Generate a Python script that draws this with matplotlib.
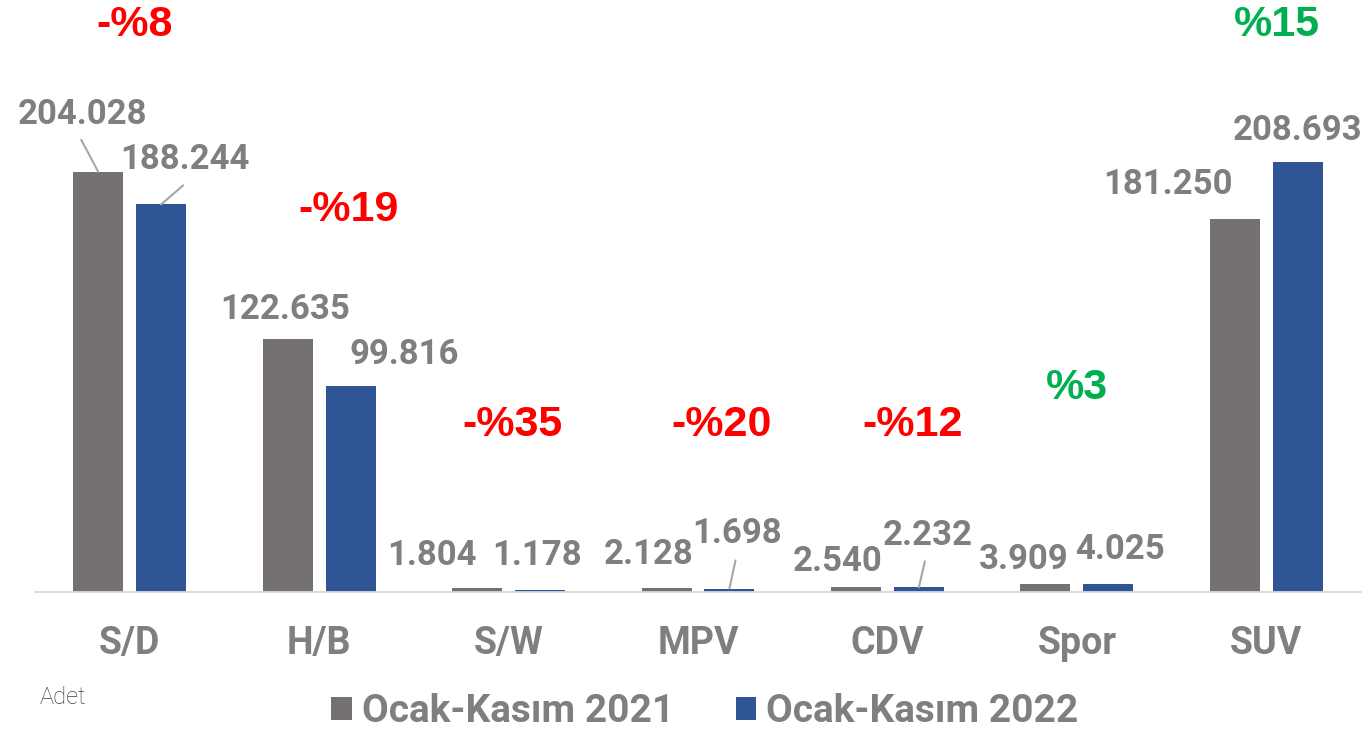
import matplotlib
matplotlib.use("Agg")
import matplotlib.pyplot as plt
from matplotlib.patches import Patch
import matplotlib.transforms as mtransforms

# ---- data ----
categories = ["S/D", "H/B", "S/W", "MPV", "CDV", "Spor", "SUV"]
series_names = ["Ocak-Kasım 2021", "Ocak-Kasım 2022"]
values_2021 = [204028, 122635, 1804, 2128, 2540, 3909, 181250]
values_2022 = [188244, 99816, 1178, 1698, 2232, 4025, 208693]
unit_label = "Adet"

# ---- layout / style ----
W, H, DPI = 1370, 731, 100
gray = "#767171"
blue = "#2F5597"
label_gray = "#7F7F7F"
red = "#FF0000"
green = "#00B050"
bar_w = 0.264
offset = 0.166
PX = 72.0 / DPI  # points per pixel

# label offsets (pixels) relative to bar top centre: (dx, dy_up)
off_2021 = [(-16, 57), (-3, 30), (-45, 33), (-18, 33), (-18, 25), (-22, 24), (-67, 34)]
off_2022 = [(24, 45), (54, 32), (-3, 34), (8, 55), (9, 52), (12, 34), (0, 32)]
# leader lines for these labels: (series, index, end offset px)
leaders = [(0, 0, (-17, 32)), (1, 0, (22, 19)), (1, 3, (6, 28)), (1, 4, (6, 26))]
# change-label positions: dx px from category centre, y px from top of figure
pct_pos = [(5, 25), (29, 210), (4, 425), (24, 425), (25, 425), (0, 388), (11, 25)]

fig = plt.figure(figsize=(W / DPI, H / DPI), dpi=DPI)
ax = fig.add_axes([35 / W, 1 - 592 / H, 1326 / W, 592 / H])
ax.set_xlim(-0.5, len(categories) - 0.5)
ax.set_ylim(0, 287500)

x = list(range(len(categories)))
b1 = ax.bar([i - offset for i in x], values_2021, width=bar_w, color=gray, label=series_names[0])
b2 = ax.bar([i + offset for i in x], values_2022, width=bar_w, color=blue, label=series_names[1])

for s in ["top", "right", "left"]:
    ax.spines[s].set_visible(False)
ax.spines["bottom"].set_color("#D9D9D9")
ax.spines["bottom"].set_linewidth(1.3)
ax.set_yticks([])
ax.set_xticks(x)
ax.set_xticklabels(categories, fontsize=27, fontweight="bold", color=label_gray, family="Roboto")
ax.tick_params(axis="x", length=0, pad=24)

def fmt(v):
    return f"{v:,}".replace(",", ".")

for si, (vals, offs) in enumerate([(values_2021, off_2021), (values_2022, off_2022)]):
    for i, v in enumerate(vals):
        xc = i - offset if si == 0 else i + offset
        dx, dy = offs[i]
        ax.annotate(fmt(v), xy=(xc, v), xytext=(dx * PX, dy * PX), textcoords="offset points",
                    ha="center", va="center", fontsize=25, fontweight="bold",
                    color=label_gray, family="Roboto")

for si, i, (ex, ey) in leaders:
    vals = values_2021 if si == 0 else values_2022
    xc = i - offset if si == 0 else i + offset
    ax.annotate("", xy=(xc, vals[i]), xytext=(ex * PX, ey * PX), textcoords="offset points",
                arrowprops=dict(arrowstyle="-", color="#A6A6A6", lw=1.5, shrinkA=0, shrinkB=0))

# percent change labels
trans = mtransforms.blended_transform_factory(ax.transData, fig.transFigure)
for i, (a, b) in enumerate(zip(values_2021, values_2022)):
    pct = round((b / a - 1) * 100)
    txt = f"-%{abs(pct)}" if pct < 0 else f"%{pct}"
    col = red if pct < 0 else green
    dx, ypx = pct_pos[i]
    ax.annotate(txt, xy=(i, 1 - ypx / H), xycoords=trans, xytext=(dx * PX, 0),
                textcoords="offset points", ha="center", va="center",
                fontsize=31, fontweight="bold", color=col, family="Liberation Sans",
                annotation_clip=False)

# legend
handles = [Patch(facecolor=gray, edgecolor="none"), Patch(facecolor=blue, edgecolor="none")]
leg = fig.legend(handles, series_names, loc="center", bbox_to_anchor=(705 / W, 1 - 712 / H),
                 ncol=2, frameon=False, handlelength=0.52, handleheight=0.52,
                 handletextpad=0.26, columnspacing=1.6,
                 prop={"family": "Roboto", "weight": "bold", "size": 28})
for t in leg.get_texts():
    t.set_color(label_gray)

fig.text(40 / W, 1 - 698 / H, unit_label, fontsize=17, color="#404040", family="Roboto",
         fontweight="light", ha="left", va="center")

fig.savefig("out.png", dpi=DPI)
